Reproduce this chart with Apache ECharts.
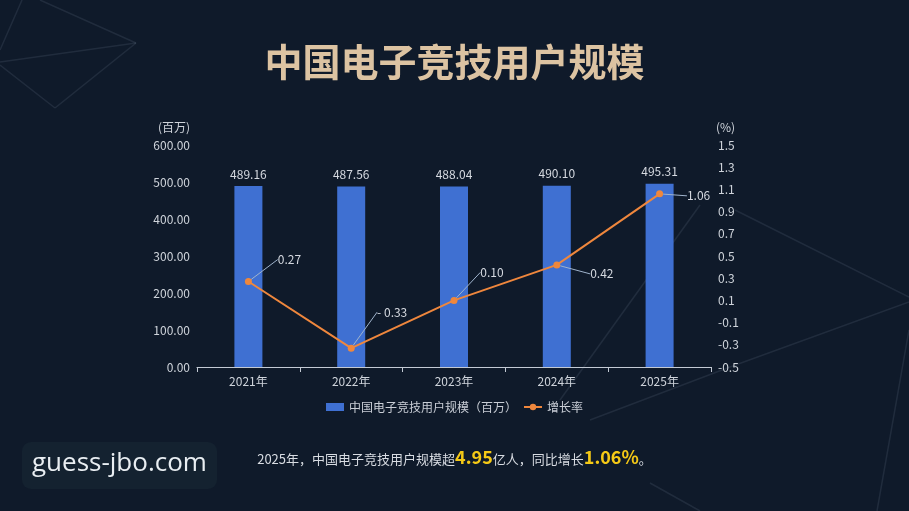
<!DOCTYPE html>
<html>
<head>
<meta charset="utf-8">
<script src="https://cdn.jsdelivr.net/npm/echarts@6/dist/echarts.min.js"></script>
<style>
  html, body { margin: 0; padding: 0; background: #0f1a2a; }
  #chart { width: 909px; height: 511px; }
</style>
</head>
<body>
<div id="chart"></div>
<script>
const years = ['2021年', '2022年', '2023年', '2024年', '2025年'];
const users = [489.16, 487.56, 488.04, 490.10, 495.31];
const growth = [0.27, -0.33, 0.10, 0.42, 1.06];

// where each growth label sits relative to its point
const labelShift = [[41, -22], [41, -36], [38, -28], [45, 9], [39, 2]];

const font = '"Noto Sans CJK SC", "Noto Sans", sans-serif';
const deco = 'rgba(140,155,180,0.14)';

const decoLines = [
  [40, 0, 136, 43], [0, 62, 136, 43], [136, 43, 55, 108], [0, 65, 55, 108], [22, 0, 0, 50],
  [735, 210, 909, 297], [730, 367, 909, 302], [909, 330, 877, 511], [650, 483, 700, 511],
  [700, 205, 560, 400], [590, 420, 730, 367]
];

const chart = echarts.init(document.getElementById('chart'));

const option = {
  backgroundColor: '#0f1a2a',
  textStyle: { fontFamily: font },
  title: {
    text: '中国电子竞技用户规模',
    left: 'center',
    top: 38,
    textStyle: {
      fontSize: 38,
      fontWeight: 'bold',
      fontFamily: font,
      color: '#dcc3a2'
    }
  },
  grid: {
    left: 197,
    right: 198,
    top: 145,
    bottom: 144
  },
  legend: {
    bottom: 93,
    left: 'center',
    itemWidth: 18,
    itemHeight: 8,
    itemGap: 6,
    textStyle: { color: '#c9ced6', fontSize: 12 },
    data: [
      { name: '中国电子竞技用户规模（百万）', icon: 'rect' },
      { name: '增长率' }
    ]
  },
  xAxis: {
    type: 'category',
    data: years,
    axisLine: { lineStyle: { color: '#c3cad4', width: 1 } },
    axisTick: { show: true, length: 5, lineStyle: { color: '#c3cad4' } },
    axisLabel: { color: '#cfd4db', fontSize: 12, margin: 8 }
  },
  yAxis: [
    {
      type: 'value',
      min: 0,
      max: 600,
      interval: 100,
      name: '(百万)',
      nameGap: 12,
      nameTextStyle: { color: '#cfd4db', fontSize: 12, align: 'right', padding: [0, 7, 0, 0] },
      splitLine: { show: false },
      axisLine: { show: false },
      axisTick: { show: false },
      axisLabel: {
        color: '#cfd4db',
        fontSize: 12,
        margin: 7,
        formatter: (v) => v.toFixed(2)
      }
    },
    {
      type: 'value',
      min: -0.5,
      max: 1.5,
      interval: 0.2,
      name: '(%)',
      nameGap: 12,
      nameTextStyle: { color: '#cfd4db', fontSize: 12, align: 'left', padding: [0, 0, 0, 5] },
      splitLine: { show: false },
      axisLine: { show: false },
      axisTick: { show: false },
      axisLabel: {
        color: '#cfd4db',
        fontSize: 12,
        margin: 7,
        formatter: (v) => v.toFixed(1)
      }
    }
  ],
  series: [
    {
      name: '中国电子竞技用户规模（百万）',
      type: 'bar',
      data: users,
      barWidth: 28,
      itemStyle: { color: '#3f70d2' },
      label: {
        show: true,
        position: 'top',
        distance: 6,
        color: '#d5d9e0',
        fontSize: 12,
        formatter: (p) => p.value.toFixed(2)
      }
    },
    {
      name: '增长率',
      type: 'line',
      yAxisIndex: 1,
      data: growth,
      symbol: 'circle',
      symbolSize: 7,
      lineStyle: { color: '#ef873d', width: 2 },
      itemStyle: { color: '#ef873d' },
      label: {
        show: true,
        position: 'inside',
        color: '#d5d9e0',
        fontSize: 12,
        formatter: (p) => (p.value < 0 ? '- ' + Math.abs(p.value).toFixed(2) : p.value.toFixed(2))
      },
      labelLine: {
        show: true,
        lineStyle: { color: '#9fb3cc', width: 1 }
      },
      labelLayout: (params) => {
        const s = labelShift[params.dataIndex];
        return { dx: s[0], dy: s[1] };
      }
    }
  ],
  graphic: [
    ...decoLines.map((l) => ({
      type: 'line',
      silent: true,
      z: -10,
      shape: { x1: l[0], y1: l[1], x2: l[2], y2: l[3] },
      style: { stroke: deco, lineWidth: 1.5 }
    })),
    {
      type: 'rect',
      left: 22,
      top: 442,
      shape: { width: 195, height: 47, r: 9 },
      style: { fill: '#142230' }
    },
    {
      type: 'text',
      left: 32,
      top: 451,
      style: {
        text: 'guess-jbo.com',
        fill: '#e9eef2',
        font: '26px "Open Sans", "Noto Sans", sans-serif'
      }
    },
    {
      type: 'text',
      left: 'center',
      top: 448,
      style: {
        text: '{n|2025年，中国电子竞技用户规模超}{h|4.95}{n|亿人，同比增长}{h|1.06%}{n|。}',
        rich: {
          n: { fill: '#d8dce2', fontSize: 13, fontFamily: font, verticalAlign: 'bottom' },
          h: { fill: '#f5c916', fontSize: 18, fontWeight: 'bold', fontFamily: font, verticalAlign: 'bottom' }
        }
      }
    }
  ]
};

chart.setOption(option);
</script>
</body>
</html>
